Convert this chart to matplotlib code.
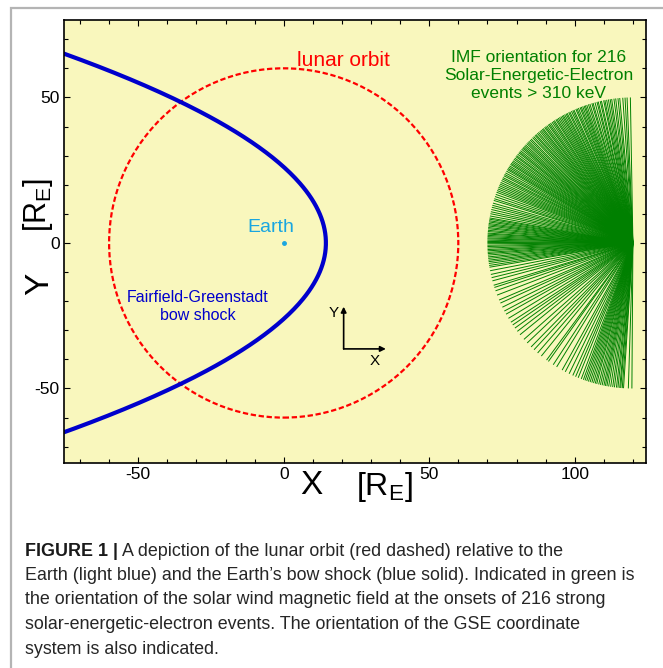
import numpy as np
import matplotlib
matplotlib.use("Agg")
import matplotlib.pyplot as plt
from matplotlib.patches import Circle, Rectangle

plt.rcParams["font.family"] = ["Liberation Sans", "DejaVu Sans"]
plt.rcParams["mathtext.default"] = "regular"
plt.rcParams["axes.unicode_minus"] = False

# --- data ---
x_ticks = [-50, 0, 50, 100]
y_ticks = [-50, 0, 50]
moon_radius = 60.0            # lunar orbit, R_E
bow_nose = 14.5               # bow shock stand-off distance, R_E
bow_flare = 47.0              # y^2 / (nose - x)
bow_y_range = (-66.0, 66.0)
imf_origin = (120.0, 0.0)
imf_length = 50.0
# IMF direction of each of the 216 events, degrees counter-clockwise from +X
imf_angles = [
    91.0, 92.3, 93.1, 94.0, 95.2, 95.9, 96.8, 97.5, 98.4, 99.0, 99.7,
    100.4, 101.1, 101.6, 102.5, 103.0, 103.8, 104.3, 105.1, 105.9, 106.4, 107.2, 107.8, 108.5, 109.1, 109.6,
    110.2, 110.8, 111.3, 112.0, 112.6, 113.1, 113.9, 114.4, 115.0, 115.7, 116.2, 116.9, 117.4, 118.0, 118.6, 119.1, 119.7,
    120.3, 120.9, 121.5, 122.0, 122.7, 123.2, 123.8, 124.5, 125.1, 125.6, 126.3, 126.9, 127.4, 128.1, 128.6, 129.2, 129.8,
    130.5, 131.1, 131.8, 132.3, 133.0, 133.6, 134.4, 135.0, 135.7, 136.3, 136.9, 137.6, 138.2, 138.8, 139.3, 139.9,
    140.6, 141.2, 141.7, 142.4, 143.1, 143.6, 144.3, 144.9, 145.6, 146.2, 146.8, 147.3, 148.0, 148.6, 149.2, 149.7,
    150.4, 151.2, 151.9, 152.5, 153.3, 153.9, 154.6, 155.4, 156.1, 156.8, 157.5, 158.2, 158.9, 159.6,
    160.5, 161.4, 162.3, 163.0, 164.1, 165.0, 165.8, 166.7, 167.6, 168.4, 169.3,
    170.1, 170.6, 171.2, 171.7, 172.3, 172.8, 173.3, 173.9, 174.4, 175.0, 175.5, 176.1, 176.5, 177.0, 177.5,
    178.0, 178.4, 178.9, 179.4, 179.8,
    180.3, 180.9, 181.4, 182.0, 182.6, 183.1, 183.7, 184.2, 184.8, 185.5, 186.1, 186.8, 187.4, 188.1, 188.9, 189.6,
    191.0, 192.5, 193.8, 195.1, 196.9, 197.8, 199.2,
    201.0, 203.1, 204.4, 206.2, 207.9, 209.3,
    211.2, 213.0, 214.3, 215.8, 217.4, 219.1,
    221.5, 223.4, 225.6, 227.2, 229.1,
    231.0, 233.6, 234.5, 236.8, 238.4,
    240.9, 242.3, 244.0, 245.6, 246.8, 247.9, 249.2,
    250.1, 250.8, 251.5, 252.2, 252.9, 253.6, 254.3, 255.0, 255.6, 256.4, 257.1, 257.8, 258.5, 259.1, 259.7,
    260.4, 261.2, 262.0, 262.7, 263.5, 264.1, 264.8, 265.2, 265.8, 266.3, 268.2, 269.6,
]

caption_lines = [
    "A depiction of the lunar orbit (red dashed) relative to the",
    "Earth (light blue) and the Earth\u2019s bow shock (blue solid). Indicated in green is",
    "the orientation of the solar wind magnetic field at the onsets of 216 strong",
    "solar-energetic-electron events. The orientation of the GSE coordinate",
    "system is also indicated.",
]

fig = plt.figure(figsize=(6.63, 6.68), dpi=100)

# grey frame round the figure
fig.patches.append(Rectangle((10.5 / 663, -0.01), 1.0, 1.01 - 8.5 / 668,
                             transform=fig.transFigure, fill=False,
                             edgecolor="#b4b4b4", linewidth=1.6))

ax = fig.add_axes([64 / 663, 1 - 463 / 668, 582 / 663, 443 / 668])
ax.set_facecolor("#f9f7bd")
ax.set_xlim(-75.5, 124.5)
ax.set_ylim(-75.6, 76.6)

# IMF fan
a = np.radians(imf_angles)
x0, y0 = imf_origin
for ang in a:
    ax.plot([x0, x0 + imf_length * np.cos(ang)], [y0, y0 + imf_length * np.sin(ang)],
            color="#008000", lw=0.7, solid_capstyle="butt")

# lunar orbit
ax.add_patch(Circle((0, 0), moon_radius, fill=False, edgecolor="#ff0000",
                    lw=1.6, linestyle=(0, (2.4, 1.2))))

# bow shock
yb = np.linspace(bow_y_range[0], bow_y_range[1], 300)
xb = bow_nose - yb ** 2 / bow_flare
ax.plot(xb, yb, color="#0000cc", lw=3.0)

# Earth
ax.plot(0, 0, "o", color="#1aa6e0", ms=2.5)
ax.text(-4.6, 5.2, "Earth", color="#1aa6e0", fontsize=14, ha="center", va="center")

ax.text(20.5, 62.8, "lunar orbit", color="#ff0000", fontsize=15, ha="center", va="center")
ax.text(87.5, 57.5, "IMF orientation for 216\nSolar-Energetic-Electron\nevents > 310 keV",
        color="#008000", fontsize=12.5, ha="center", va="center", linespacing=1.22)
ax.text(-29.5, -21.8, "Fairfield-Greenstadt\nbow shock", color="#0000cc", fontsize=11.5,
        ha="center", va="center", linespacing=1.2)

# GSE axes indicator
ox, oy = 20.6, -36.4
ax.annotate("", xy=(ox, oy + 14.5), xytext=(ox, oy),
            arrowprops=dict(arrowstyle="-|>", color="black", lw=1.2, mutation_scale=8,
                            shrinkA=0, shrinkB=0))
ax.annotate("", xy=(ox + 14.5, oy), xytext=(ox, oy),
            arrowprops=dict(arrowstyle="-|>", color="black", lw=1.2, mutation_scale=8,
                            shrinkA=0, shrinkB=0))
ax.text(ox - 3.4, oy + 12.3, "Y", fontsize=11, ha="center", va="center")
ax.text(ox + 10.8, oy - 4.0, "X", fontsize=11, ha="center", va="center")

ax.set_xticks(x_ticks)
ax.set_yticks(y_ticks)
ax.set_xticks(np.arange(-70, 125, 10), minor=True)
ax.set_yticks(np.arange(-70, 76, 10), minor=True)
ax.tick_params(which="both", direction="in", top=True, right=True, labelsize=12.5, pad=3)
ax.tick_params(which="major", length=4, width=0.8)
ax.tick_params(which="minor", length=3, width=0.8)
for s in ax.spines.values():
    s.set_linewidth(1.2)

# axis labels
fig.text(311 / 663, 1 - 486 / 668, "X", fontsize=24, ha="center", va="center")
fig.text(384 / 663, 1 - 487 / 668, r"$[R_E]$", fontsize=23, ha="center", va="center")
fig.text(40 / 663, 1 - 284 / 668, "Y", fontsize=24, ha="center", va="center", rotation=90)
fig.text(38 / 663, 1 - 205 / 668, r"$[R_E]$", fontsize=22, ha="center", va="center", rotation=90)

# caption
renderer = fig.canvas.get_renderer()
y_first = 1 - 551 / 668
step = 24.5 / 668
t = fig.text(25 / 663, y_first, "FIGURE 1 |", fontsize=12.9, fontweight="bold",
             va="center", color="#1a1a1a")
bb = t.get_window_extent(renderer=renderer)
fig.text(bb.x1 / fig.bbox.width + 4 / 663, y_first, caption_lines[0], fontsize=12.9,
         va="center", color="#262626")
for i, line in enumerate(caption_lines[1:], start=1):
    fig.text(25 / 663, y_first - i * step, line, fontsize=12.9,
             va="center", color="#262626")

fig.savefig("out.png", dpi=100)
